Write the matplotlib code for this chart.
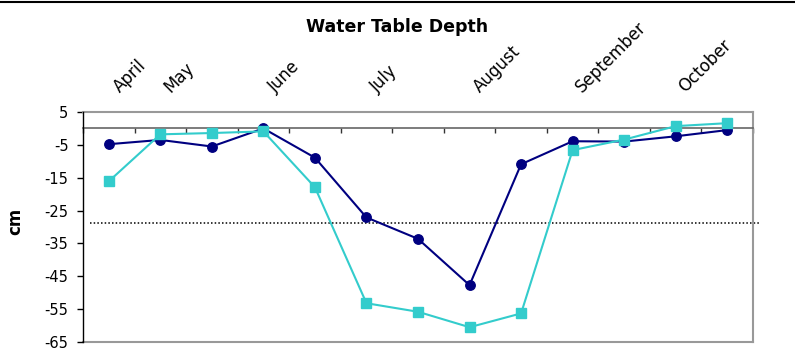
import matplotlib
matplotlib.use("Agg")
import matplotlib.pyplot as plt
from matplotlib.patches import Rectangle
from matplotlib.transforms import blended_transform_factory

plt.rcParams['font.family'] = ['DejaVu Sans']

# Water table depth (cm) at 13 sampling dates
well_a = [-4.8, -3.5, -5.5, 0.0, -8.9, -27.1, -33.6, -47.7, -10.9, -3.9, -4.0, -2.4, -0.5]
well_b = [-16.1, -1.8, -1.4, -0.9, -17.9, -53.2, -55.8, -60.5, -56.3, -6.6, -3.4, 0.7, 1.6]
threshold = -28.9

months = ["April", "May", "June", "July", "August", "September", "October"]
month_pos = [0.22, 1.19, 3.23, 5.2, 7.2, 9.18, 11.18]

y_ticks = [5, -5, -15, -25, -35, -45, -55, -65]

fig = plt.figure(figsize=(7.95, 3.56), dpi=100)
ax = fig.add_axes([83 / 795, 1 - 342 / 356, 670 / 795, 230 / 356])

x = list(range(len(well_a)))
ax.plot(x, well_a, color='#000080', lw=1.5, marker='o', ms=6.8,
        markeredgecolor='#000080', zorder=3)
ax.plot(x, well_b, color='#33CCCC', lw=1.5, marker='s', ms=7,
        markeredgecolor='#33CCCC', zorder=4)

ax.set_xlim(-0.5, 12.5)
ax.set_ylim(-65, 5)

# dotted reference level, running slightly beyond the frame
ax.plot([-0.36, 12.64], [threshold, threshold], color='black', lw=1.1,
        linestyle=(0, (1, 1.4)), clip_on=False, zorder=2)

# frame
for side in ('top', 'right'):
    ax.spines[side].set_color('#999999')
    ax.spines[side].set_linewidth(1.5)
ax.spines['left'].set_color('black')
ax.spines['left'].set_linewidth(1.0)
ax.spines['left'].set_zorder(5)
ax.plot([0, 1], [0, 0], transform=ax.transAxes, color='#999999', lw=1.5,
        clip_on=False, zorder=1)

# category axis crossing at zero
ax.spines['bottom'].set_position(('data', 0))
ax.spines['bottom'].set_color('#666666')
ax.spines['bottom'].set_linewidth(1.2)
ax.set_xticks([i - 0.5 for i in range(len(well_a) + 1)])
ax.tick_params(axis='x', direction='out', length=3.5, width=1, color='#333333',
               labelbottom=False)

ax.set_yticks(y_ticks)
ax.set_yticklabels([str(v) for v in y_ticks])
ax.tick_params(axis='y', direction='out', length=4.5, width=1, color='black',
               labelsize=10.5, pad=6)

trans = blended_transform_factory(ax.transData, ax.transAxes)
for name, pos in zip(months, month_pos):
    ax.text(pos, 1.083, name, transform=trans, rotation=45,
            rotation_mode='anchor', ha='left', va='baseline', fontsize=12)

fig.text(0.5, 1 - 31.5 / 356, "Water Table Depth", ha='center', va='baseline',
         fontsize=12.5, fontweight='bold')
fig.text(15 / 795, 1 - 221 / 356, "cm", rotation=90, ha='center', va='center',
         fontsize=12, fontweight='bold')

# page rule along the top edge
fig.add_artist(plt.Line2D([0, 1], [1 - 1.5 / 356, 1 - 1.5 / 356],
                          transform=fig.transFigure, color='black', lw=1.5))

fig.savefig("out.png", dpi=100)
